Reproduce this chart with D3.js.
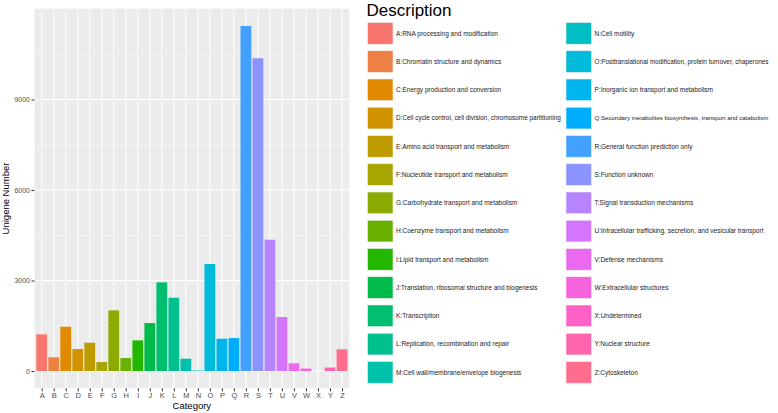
<!DOCTYPE html>
<html><head><meta charset="utf-8">
<script src="https://cdn.jsdelivr.net/npm/d3@7"></script>
<style>
body{margin:0;background:#fff;}
text{font-family:"Liberation Sans",Arial,Helvetica,sans-serif;}
</style></head>
<body><svg id="c" width="778" height="413"></svg>
<script>
const categories = ["A","B","C","D","E","F","G","H","I","J","K","L","M","N","O","P","Q","R","S","T","U","V","W","X","Y","Z"];
const values = [1216, 454, 1469, 729, 938, 298, 2012, 431, 1017, 1591, 2940, 2430, 408, 8, 3547, 1071, 1094, 11437, 10366, 4352, 1790, 255, 83, 0, 116, 719];
const descriptions = [
 "A:RNA processing and modification",
 "B:Chromatin structure and dynamics",
 "C:Energy production and conversion",
 "D:Cell cycle control, cell division, chromosome partitioning",
 "E:Amino acid transport and metabolism",
 "F:Nucleotide transport and metabolism",
 "G:Carbohydrate transport and metabolism",
 "H:Coenzyme transport and metabolism",
 "I:Lipid transport and metabolism",
 "J:Translation, ribosomal structure and biogenesis",
 "K:Transcription",
 "L:Replication, recombination and repair",
 "M:Cell wall/membrane/envelope biogenesis",
 "N:Cell motility",
 "O:Posttranslational modification, protein turnover, chaperones",
 "P:Inorganic ion transport and metabolism",
 "Q:Secondary metabolites biosynthesis, transport and catabolism",
 "R:General function prediction only",
 "S:Function unknown",
 "T:Signal transduction mechanisms",
 "U:Intracellular trafficking, secretion, and vesicular transport",
 "V:Defense mechanisms",
 "W:Extracellular structures",
 "X:Undetermined",
 "Y:Nuclear structure",
 "Z:Cytoskeleton"
];
const yTicks = [0, 3000, 6000, 9000];
const yMinor = [1500, 4500, 7500, 10500];
const yTitle = "Unigene Number";
const xTitle = "Category";
const legendTitle = "Description";

// ggplot2-like hue palette (polar CIE-LUV, l=65, c=100)
function hclLuv(h, c, l){
  const Xn=95.047, Yn=100, Zn=108.883;
  const hr=h*Math.PI/180, U=c*Math.cos(hr), V=c*Math.sin(hr);
  const Y = l>8 ? Yn*Math.pow((l+16)/116,3) : Yn*l/903.3;
  const den = Xn+15*Yn+3*Zn, u0=4*Xn/den, v0=9*Yn/den;
  const up=U/(13*l)+u0, vp=V/(13*l)+v0;
  const X=9*Y*up/(4*vp), Z=-X/3-5*Y+3*Y/vp;
  const x=X/100,y=Y/100,z=Z/100;
  let r=3.240479*x-1.537150*y-0.498535*z;
  let g=-0.969256*x+1.875992*y+0.041556*z;
  let b=0.055648*x-0.204043*y+1.057311*z;
  const gm=v=>{v = v<=0.0031308?12.92*v:1.055*Math.pow(v,1/2.4)-0.055; return Math.round(255*Math.max(0,Math.min(1,v)));};
  return d3.rgb(gm(r),gm(g),gm(b)).formatHex();
}
const n = categories.length;
const colors = categories.map((d,i)=>hclLuv(15+360*i/n,100,65));
const color = d3.scaleOrdinal().domain(categories).range(colors);

const svg = d3.select("#c");
const P = {l:34.5, r:349.2, t:8.7, b:388.3};
const maxV = d3.max(values);
const x = d3.scalePoint().domain(categories).range([P.l, P.r]).padding(0.6);
const step = x.step();
const y = d3.scaleLinear().domain([-0.05*maxV, 1.05*maxV]).range([P.b, P.t]);

const g = svg.append("g");
g.append("rect").attr("x",P.l).attr("y",P.t).attr("width",P.r-P.l).attr("height",P.b-P.t).attr("fill","#EBEBEB");
g.selectAll(".ymin").data(yMinor).join("line")
  .attr("x1",P.l).attr("x2",P.r).attr("y1",d=>y(d)).attr("y2",d=>y(d))
  .attr("stroke","#fff").attr("stroke-width",0.5);
g.selectAll(".ymaj").data(yTicks).join("line")
  .attr("x1",P.l).attr("x2",P.r).attr("y1",d=>y(d)).attr("y2",d=>y(d))
  .attr("stroke","#fff").attr("stroke-width",1);
g.selectAll(".xmaj").data(categories).join("line")
  .attr("x1",d=>x(d)).attr("x2",d=>x(d)).attr("y1",P.t).attr("y2",P.b)
  .attr("stroke","#fff").attr("stroke-width",1);

g.selectAll(".bar").data(categories).join("rect")
  .attr("x",d=>x(d)-0.45*step).attr("width",0.9*step)
  .attr("y",(d,i)=>Math.min(y(values[i]), y(0)-0.6))
  .attr("height",(d,i)=>Math.max(0.6, y(0)-y(values[i])))
  .attr("fill",d=>color(d))
  .attr("opacity",(d,i)=>values[i]>0?1:0);

// axes
const yAxis = d3.axisLeft(y).tickValues(yTicks).tickSize(3).tickPadding(1.5).tickFormat(d3.format("d"));
const ya = svg.append("g").attr("transform",`translate(${P.l},0)`).call(yAxis);
ya.select(".domain").remove();
ya.selectAll("line").attr("stroke","#333");
ya.selectAll("text").attr("fill","#4D4D4D").style("font-size","7px");

const xAxis = d3.axisBottom(x).tickSize(3).tickPadding(1.5);
const xa = svg.append("g").attr("transform",`translate(0,${P.b})`).call(xAxis);
xa.select(".domain").remove();
xa.selectAll("line").attr("stroke","#333");
xa.selectAll("text").attr("fill","#4D4D4D").style("font-size","7.5px");

svg.append("text").attr("x",(P.l+P.r)/2).attr("y",409).attr("text-anchor","middle")
  .style("font-size","9.5px").attr("fill","#000").text(xTitle);
svg.append("text").attr("transform",`translate(9,${(P.t+P.b)/2}) rotate(-90)`).attr("text-anchor","middle")
  .style("font-size","9.5px").attr("fill","#000").text(yTitle);

// legend
const lg = svg.append("g");
lg.append("text").attr("x",366.5).attr("y",16).style("font-size","17px").attr("fill","#000").text(legendTitle);
const perCol = 13;
const colX = [367.5, 566];
const colMaxW = [165, 174];
const baseFont = 6.5;
const keyW = 25.5, keyH = 21.7, pitch = 28.25, top0 = 22.5;
const items = lg.selectAll(".it").data(categories).join("g")
  .attr("transform",(d,i)=>`translate(${colX[Math.floor(i/perCol)]},${top0+(i%perCol)*pitch})`);
items.append("rect").attr("width",keyW).attr("height",keyH).attr("fill",d=>color(d))
  .attr("stroke","#F2F2F2").attr("stroke-width",0.6);
items.append("text").attr("x",keyW+3).attr("y",keyH/2).attr("dy","0.35em")
  .style("font-size",baseFont+"px").attr("fill","#1a1a1a").text((d,i)=>descriptions[i])
  .each(function(d,i){
    const maxW = colMaxW[Math.floor(i/perCol)];
    const w = this.getComputedTextLength();
    if (w > maxW) d3.select(this).style("font-size",(baseFont*maxW/w).toFixed(2)+"px");
  });
</script></body></html>
